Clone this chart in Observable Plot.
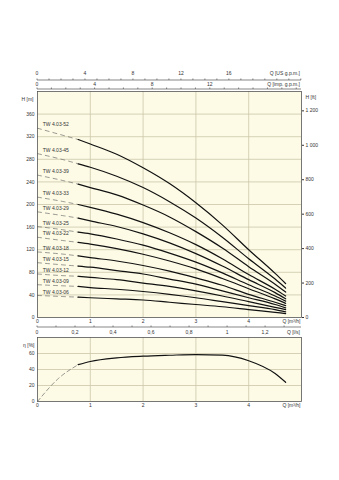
<!DOCTYPE html>
<html><head><meta charset="utf-8">
<script src="https://cdn.jsdelivr.net/npm/d3@7"></script>
<script src="https://cdn.jsdelivr.net/npm/@observablehq/plot@0.6"></script>
<style>
body{margin:0;background:#fff;}
#chart{position:relative;width:339px;height:480px;}
#chart svg{position:absolute;left:0;overflow:visible;}
</style></head><body><div id="chart"></div>
<script>
// ---------- data ----------
const Q = [0, 0.5, 0.77, 1, 1.5, 2, 2.5, 3, 3.5, 4, 4.5, 4.7];
const pumps = ["TW 4.03-52","TW 4.03-45","TW 4.03-39","TW 4.03-33","TW 4.03-29","TW 4.03-25","TW 4.03-22","TW 4.03-18","TW 4.03-15","TW 4.03-12","TW 4.03-09","TW 4.03-06"];
const H52 = [335, 322, 315, 307, 289, 265, 237, 203, 164, 120, 78, 60];
const H45 = [290, 279, 272, 266, 250, 230, 205, 176, 142, 104, 68, 52];
const H39 = [252, 242, 236, 230, 217, 199, 178, 152, 123, 90, 59, 45];
const H33 = [213, 205, 200, 195, 183, 168, 150, 129, 104, 76, 50, 38];
const H29 = [187, 180, 176, 171, 161, 148, 132, 113, 91, 67, 44, 33];
const H25 = [161, 155, 151, 148, 139, 128, 114, 98, 79, 58, 38, 29];
const H22 = [142, 136, 133, 130, 122, 112, 100, 86, 69, 51, 33, 25];
const H18 = [116, 112, 109, 106, 100, 92, 82, 70, 57, 41, 27, 21];
const H15 = [97, 93, 91, 89, 83, 77, 68, 59, 47, 35, 23, 17];
const H12 = [77, 74, 73, 71, 67, 61, 55, 47, 38, 28, 18, 14];
const H09 = [58, 56, 55, 53, 50, 46, 41, 35, 28, 21, 14, 10];
const H06 = [39, 37, 36, 35, 33, 31, 27, 23, 19, 14, 9, 7];
const heads = [H52, H45, H39, H33, H29, H25, H22, H18, H15, H12, H09, H06];
const solidFrom = 0.77; // start of the solid part of each curve

const Qe = [0, 0.4, 0.77, 1, 1.5, 2, 2.5, 3, 3.5, 4, 4.5, 4.7];
const eta = [0, 29, 46, 50, 54.5, 56.6, 57.8, 58.7, 58, 51, 35, 24];

const hTicks = [0, 40, 80, 120, 160, 200, 240, 280, 320, 360];
const ftTicks = [0, 200, 400, 600, 800, 1000, 1200];
const qTicks = [0, 1, 2, 3, 4];
const qGrid = [1, 2, 3, 4];
const etaTicks = [0, 20, 40, 60];
const etaGrid = [20, 40, 60];
const usTicks = d3.range(0, 23);
const usLabels = [0, 4, 8, 12, 16];
const impTicks = d3.range(0, 19);
const impLabels = [0, 4, 8, 12];
const lsTicks = d3.range(0, 14).map(d => d / 10);
const lsLabels = [0, 0.2, 0.4, 0.6, 0.8, 1, 1.2];

// unit conversions to m³/h and m
const US_GPM = 0.227125, IMP_GPM = 0.272766, LPS = 3.6, FT = 0.3048;

// ---------- styles ----------
const cream = "#fdfbe6";
const gridC = "#cbc7aa";
const ink = "#333333";
const frameC = "#555555";
const font = "'Liberation Sans', Arial, sans-serif";
const fs = 5;

const rows = [];
pumps.forEach((p, i) => Q.forEach((q, j) => rows.push({pump: p, q, h: heads[i][j]})));
const dashedRows = rows.filter(d => d.q <= solidFrom);
const solidRows = rows.filter(d => d.q >= solidFrom);
const labelRows = pumps.map((p, i) => ({pump: p, q: 0.1, h: heads[i][0]}));

const effRows = Qe.map((q, i) => ({q, e: eta[i]}));
const effDashed = effRows.filter(d => d.q <= solidFrom);
const effSolid = effRows.filter(d => d.q >= solidFrom);

const fmtComma = d => String(d).replace(".", ",");
const fmtFt = n => n >= 1000 ? `${Math.floor(n / 1000)} ${String(n % 1000).padStart(3, "0")}` : String(n);

const style = {fontFamily: font, fontSize: fs + "px", color: ink, background: "transparent"};

const main = Plot.plot({
  width: 339, height: 336,
  marginTop: 91, marginBottom: 19, marginLeft: 37, marginRight: 38,
  style,
  x: {domain: [0, 5]},
  y: {domain: [0, 400]},
  marks: [
    Plot.frame({fill: cream}),
    Plot.gridX(qGrid, {stroke: gridC, strokeOpacity: 1, strokeWidth: 0.8}),
    Plot.gridY(hTicks.slice(1), {stroke: gridC, strokeOpacity: 1, strokeWidth: 0.8}),
    Plot.axisY(hTicks, {anchor: "left", tickSize: 0, tickPadding: 3, label: null}),
    Plot.axisY(ftTicks.map(f => f * FT), {anchor: "right", tickSize: 2, tickPadding: 2, label: null,
      tickFormat: d => fmtFt(Math.round(d / FT))}),
    Plot.axisX(qTicks, {anchor: "bottom", tickSize: 0, tickPadding: 2, label: null}),
    Plot.line(dashedRows, {x: "q", y: "h", z: "pump", stroke: "#555", strokeWidth: 0.6, strokeDasharray: "4,4", curve: "monotone-x"}),
    Plot.line(solidRows, {x: "q", y: "h", z: "pump", stroke: "#111", strokeWidth: 1.2, curve: "monotone-x"}),
    Plot.text(labelRows, {x: "q", y: "h", text: "pump", textAnchor: "start", dy: -3.5, fill: ink, fontSize: fs}),
    Plot.text(["H [m]"], {frameAnchor: "top-left", dx: -4, dy: 6, textAnchor: "end", fill: ink}),
    Plot.text(["H [ft]"], {frameAnchor: "top-right", dx: 4, dy: 4, textAnchor: "start", fill: ink}),
    Plot.text(["Q [m³/h]"], {frameAnchor: "bottom-right", dx: -1, dy: 5, textAnchor: "end", fill: ink}),
    Plot.frame({stroke: frameC, strokeWidth: 0.8})
  ]
});

// auxiliary flow axes drawn with the plot's own x scale
const xs = main.scale("x");
const svgM = d3.select(main);
function auxAxis(y, ticks, labels, toM3h, fmt, title, tickDir, labelDy) {
  const g = svgM.append("g").attr("font-family", font).attr("font-size", fs).attr("fill", ink);
  g.append("line").attr("x1", xs.apply(0)).attr("x2", xs.apply(5)).attr("y1", y).attr("y2", y)
    .attr("stroke", frameC).attr("stroke-width", 0.7);
  ticks.forEach(v => {
    const x = xs.apply(v * toM3h);
    if (x > xs.apply(5) + 0.5) return;
    g.append("line").attr("x1", x).attr("x2", x).attr("y1", y).attr("y2", y + tickDir)
      .attr("stroke", frameC).attr("stroke-width", 0.7);
  });
  labels.forEach(v => {
    g.append("text").attr("x", xs.apply(v * toM3h)).attr("y", y + labelDy)
      .attr("text-anchor", "middle").attr("dominant-baseline", "middle").text(fmt(v));
  });
  g.append("text").attr("x", xs.apply(5) - 1).attr("y", y + labelDy)
    .attr("text-anchor", "end").attr("dominant-baseline", "middle").text(title);
}
auxAxis(80, usTicks, usLabels, US_GPM, String, "Q [US g.p.m.]", -1.5, -6);
auxAxis(89, impTicks, impLabels, IMP_GPM, String, "Q [imp. g.p.m.]", -1.5, -4);
auxAxis(327, lsTicks, lsLabels, LPS, fmtComma, "Q [l/s]", -1.5, 5.5);

const eff = Plot.plot({
  width: 339, height: 144,
  marginTop: 1, marginBottom: 79, marginLeft: 37, marginRight: 38,
  style,
  x: {domain: [0, 5]},
  y: {domain: [0, 80]},
  marks: [
    Plot.frame({fill: cream}),
    Plot.gridX(qGrid, {stroke: gridC, strokeOpacity: 1, strokeWidth: 0.8}),
    Plot.gridY(etaGrid, {stroke: gridC, strokeOpacity: 1, strokeWidth: 0.8}),
    Plot.axisY(etaTicks, {anchor: "left", tickSize: 0, tickPadding: 3, label: null}),
    Plot.axisX(qTicks, {anchor: "bottom", tickSize: 0, tickPadding: 2, label: null}),
    Plot.line(effDashed, {x: "q", y: "e", stroke: "#555", strokeWidth: 0.6, strokeDasharray: "4,3", curve: "monotone-x"}),
    Plot.line(effSolid, {x: "q", y: "e", stroke: "#111", strokeWidth: 1.2, curve: "monotone-x"}),
    Plot.text(["η [%]"], {frameAnchor: "top-left", dx: -3, dy: 6, textAnchor: "end", fill: ink}),
    Plot.text(["Q [m³/h]"], {frameAnchor: "bottom-right", dx: -1, dy: 5, textAnchor: "end", fill: ink}),
    Plot.frame({stroke: frameC, strokeWidth: 0.8})
  ]
});

const chart = document.getElementById("chart");
main.style.top = "0px";
eff.style.top = "336px";
chart.appendChild(main);
chart.appendChild(eff);
</script>
</body></html>
